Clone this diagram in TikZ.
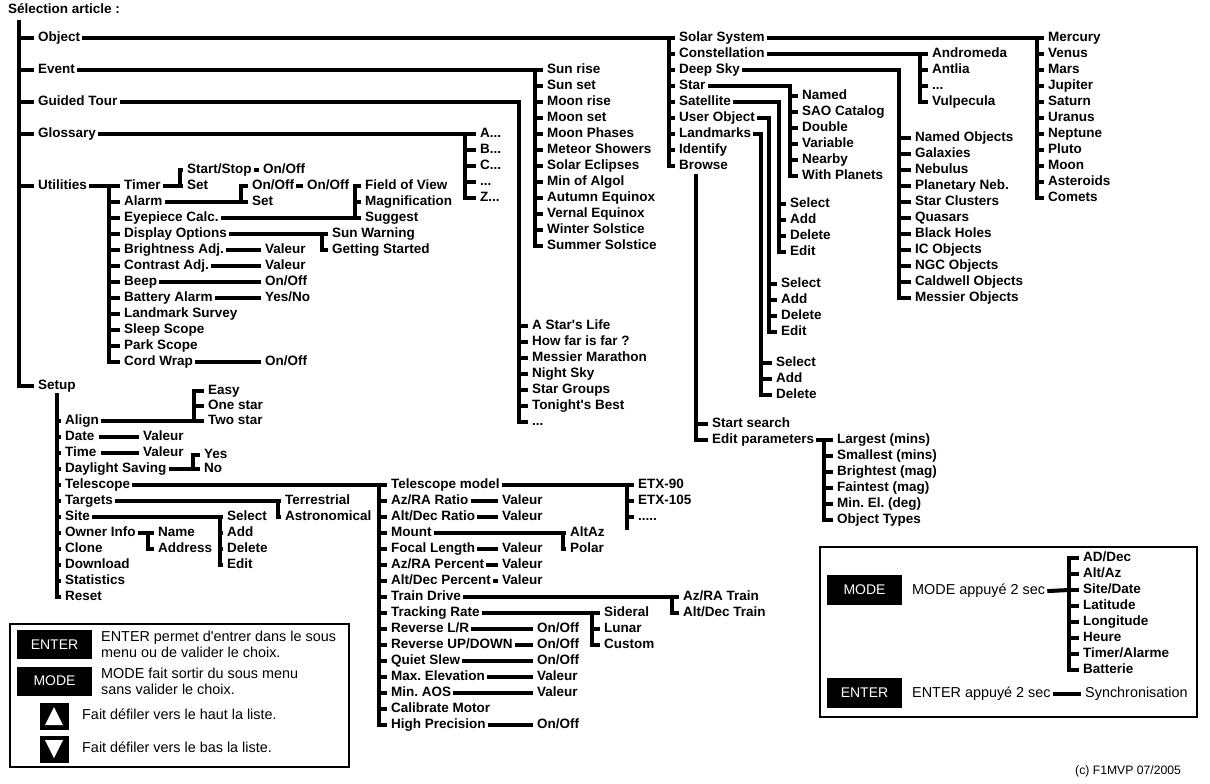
\documentclass[tikz,border=0pt]{standalone}
\usepackage{fontspec}
\setmainfont{Liberation Sans}
\frenchspacing
\newcommand{\dts}{...}
\newcommand{\ap}{\textquotesingle}
\begin{document}
\begin{tikzpicture}[x=1pt,y=-1pt,
    br/.style={line width=4pt,line cap=rect},
    lbl/.style={anchor=west,inner sep=0pt,text height=10pt,text depth=2.5pt,font=\fontsize{13.5}{14}\selectfont\bfseries},
    txt/.style={anchor=west,inner sep=0pt,text height=10pt,text depth=3pt,font=\fontsize{14.4}{15}\selectfont},
    key/.style={fill=black,text=white,inner sep=0pt,font=\fontsize{14}{15}\selectfont},
    frame/.style={line width=1.3pt}]
  \useasboundingbox (0,0) rectangle (1210,784);
  \node[lbl] (title) at (8,10) {Sélection article :};
  % main menu
  \node[lbl] (obj) at (38,38) {Object};
  \node[lbl] (evt) at (38,70) {Event};
  \node[lbl] (tour) at (38,102) {Guided Tour};
  \node[lbl] (glos) at (38,134) {Glossary};
  \node[lbl] (util) at (38,186) {Utilities};
  \node[lbl] (setup) at (38,386) {Setup};
  \draw[br] ([xshift=-19,yshift=16]obj.west) |- ([xshift=-6]setup.west);
  \foreach \n in {obj,evt,tour,glos,util}
    \draw[br] ([xshift=-19]\n.west) -- ([xshift=-6]\n.west);
  % Object
  \foreach \t [count=\i] in {Solar System,Constellation,Deep Sky,Star,Satellite,User Object,Landmarks,Identify,Browse}
    \node[lbl] (ob\i) at (679,22+16*\i) {\t};
  \draw[br] ([xshift=4]obj.east) -- ([xshift=-10]ob1.west) -- ([xshift=-10]ob9.west);
  \foreach \i in {1,...,9} \draw[br] ([xshift=-10]ob\i.west) -- ([xshift=-6]ob\i.west);
  % Solar System
  \foreach \t [count=\i] in {Mercury,Venus,Mars,Jupiter,Saturn,Uranus,Neptune,Pluto,Moon,Asteroids,Comets}
    \node[lbl] (ss\i) at (1048,22+16*\i) {\t};
  \draw[br] ([xshift=4]ob1.east) -- ([xshift=-11]ss1.west) -- ([xshift=-11]ss11.west);
  \foreach \i in {1,...,11} \draw[br] ([xshift=-11]ss\i.west) -- ([xshift=-6]ss\i.west);
  % Constellation
  \foreach \t [count=\i] in {Andromeda,Antlia,\dts,Vulpecula}
    \node[lbl] (cn\i) at (932,38+16*\i) {\t};
  \draw[br] ([xshift=4]ob2.east) -- ([xshift=-12]cn1.west) -- ([xshift=-12]cn4.west);
  \foreach \i in {1,...,4} \draw[br] ([xshift=-12]cn\i.west) -- ([xshift=-6]cn\i.west);
  % Deep Sky
  \foreach \t [count=\i] in {Named Objects,Galaxies,Nebulus,Planetary Neb.,Star Clusters,Quasars,Black Holes,IC Objects,NGC Objects,Caldwell Objects,Messier Objects}
    \node[lbl] (ds\i) at (915,122+16*\i) {\t};
  \draw[br] ([xshift=4]ob3.east) -| ([xshift=-16]ds11.west);
  \foreach \i in {1,...,11} \draw[br] ([xshift=-16]ds\i.west) -- ([xshift=-6]ds\i.west);
  % Star
  \foreach \t [count=\i] in {Named,SAO Catalog,Double,Variable,Nearby,With Planets}
    \node[lbl] (sr\i) at (802,80+16*\i) {\t};
  \draw[br] ([xshift=4]ob4.east) -| ([xshift=-12]sr6.west);
  \foreach \i in {1,...,6} \draw[br] ([xshift=-12]sr\i.west) -- ([xshift=-6]sr\i.west);
  % Satellite
  \foreach \t [count=\i] in {Select,Add,Delete,Edit}
    \node[lbl] (sa\i) at (790,188+16*\i) {\t};
  \draw[br] ([xshift=4]ob5.east) -| ([xshift=-11]sa4.west);
  \foreach \i in {1,...,4} \draw[br] ([xshift=-11]sa\i.west) -- ([xshift=-6]sa\i.west);
  % User Object
  \foreach \t [count=\i] in {Select,Add,Delete,Edit}
    \node[lbl] (uo\i) at (781,268+16*\i) {\t};
  \draw[br] ([xshift=4]ob6.east) -| ([xshift=-12]uo4.west);
  \foreach \i in {1,...,4} \draw[br] ([xshift=-12]uo\i.west) -- ([xshift=-6]uo\i.west);
  % Landmarks
  \foreach \t [count=\i] in {Select,Add,Delete}
    \node[lbl] (lm\i) at (776,347+16*\i) {\t};
  \draw[br] ([xshift=4]ob7.east) -| ([xshift=-15]lm3.west);
  \foreach \i in {1,...,3} \draw[br] ([xshift=-15]lm\i.west) -- ([xshift=-6]lm\i.west);
  % Browse
  \node[lbl] (bw1) at (712,424) {Start search};
  \node[lbl] (bw2) at (712,440) {Edit parameters};
  \draw[br] ([xshift=-16,yshift=248]bw1.west) -- ([xshift=-16]bw2.west);
  \foreach \i in {1,2} \draw[br] ([xshift=-16]bw\i.west) -- ([xshift=-6]bw\i.west);
  \foreach \t [count=\i] in {Largest (mins),Smallest (mins),Brightest (mag),Faintest (mag),Min. El. (deg),Object Types}
    \node[lbl] (pa\i) at (837,424+16*\i) {\t};
  \draw[br] ([xshift=4]bw2.east) -- ([xshift=-13]pa1.west) -- ([xshift=-13]pa6.west);
  \foreach \i in {1,...,6} \draw[br] ([xshift=-13]pa\i.west) -- ([xshift=-6]pa\i.west);
  % Event
  \foreach \t [count=\i] in {Sun rise,Sun set,Moon rise,Moon set,Moon Phases,Meteor Showers,Solar Eclipses,Min of Algol,Autumn Equinox,Vernal Equinox,Winter Solstice,Summer Solstice}
    \node[lbl] (ev\i) at (547,54+16*\i) {\t};
  \draw[br] ([xshift=4]evt.east) -- ([xshift=-12]ev1.west) -- ([xshift=-12]ev12.west);
  \foreach \i in {1,...,12} \draw[br] ([xshift=-12]ev\i.west) -- ([xshift=-6]ev\i.west);
  % Guided Tour
  \foreach \t [count=\i] in {A Star\ap s Life,How far is far ?,Messier Marathon,Night Sky,Star Groups,Tonight\ap s Best,\dts}
    \node[lbl] (gt\i) at (532,310+16*\i) {\t};
  \draw[br] ([xshift=4]tour.east) -| ([xshift=-13]gt7.west);
  \foreach \i in {1,...,7} \draw[br] ([xshift=-13]gt\i.west) -- ([xshift=-6]gt\i.west);
  % Glossary
  \foreach \t [count=\i] in {A\dts,B\dts,C\dts,\dts,Z\dts}
    \node[lbl] (gl\i) at (480,118+16*\i) {\t};
  \draw[br] ([xshift=4]glos.east) -- ([xshift=-15]gl1.west) -- ([xshift=-15]gl5.west);
  \foreach \i in {1,...,5} \draw[br] ([xshift=-15]gl\i.west) -- ([xshift=-6]gl\i.west);
  % Utilities
  \foreach \t [count=\i] in {Timer,Alarm,Eyepiece Calc.,Display Options,Brightness Adj.,Contrast Adj.,Beep,Battery Alarm,Landmark Survey,Sleep Scope,Park Scope,Cord Wrap}
    \node[lbl] (ut\i) at (124,170+16*\i) {\t};
  \draw[br] ([xshift=4]util.east) -- ([xshift=-15]ut1.west) -- ([xshift=-15]ut12.west);
  \foreach \i in {1,...,12} \draw[br] ([xshift=-15]ut\i.west) -- ([xshift=-6]ut\i.west);
  \node[lbl] (tm1) at (187,170) {Start/Stop};
  \node[lbl] (tm2) at (187,186) {Set};
  \node[lbl] (tm3) at (263,170) {On/Off};
  \draw[br] ([xshift=4]ut1.east) -| ([xshift=-7]tm1.west);
  \foreach \i in {1,2} \draw[br] ([xshift=-7]tm\i.west) -- ([xshift=-6]tm\i.west);
  \draw[br] ([xshift=4]tm1.east) -- ([xshift=-6]tm3.west);
  \node[lbl] (al1) at (252,186) {On/Off};
  \node[lbl] (al2) at (252,202) {Set};
  \node[lbl] (al3) at (307,186) {On/Off};
  \draw[br] ([xshift=4]ut2.east) -| ([xshift=-11]al1.west);
  \foreach \i in {1,2} \draw[br] ([xshift=-11]al\i.west) -- ([xshift=-6]al\i.west);
  \draw[br] ([xshift=4]al1.east) -- ([xshift=-6]al3.west);
  \foreach \t [count=\i] in {Field of View,Magnification,Suggest}
    \node[lbl] (ey\i) at (365,170+16*\i) {\t};
  \draw[br] ([xshift=4]ut3.east) -| ([xshift=-10]ey1.west);
  \foreach \i in {1,...,3} \draw[br] ([xshift=-10]ey\i.west) -- ([xshift=-6]ey\i.west);
  \node[lbl] (dp1) at (332,234) {Sun Warning};
  \node[lbl] (dp2) at (332,250) {Getting Started};
  \draw[br] ([xshift=4]ut4.east) -- ([xshift=-10]dp1.west) -- ([xshift=-10]dp2.west);
  \foreach \i in {1,2} \draw[br] ([xshift=-10]dp\i.west) -- ([xshift=-6]dp\i.west);
  \foreach \r/\v in {5/Valeur,6/Valeur,7/On\slash Off,8/Yes\slash No,12/On\slash Off} {
    \node[lbl] (uv\r) at (265,170+16*\r) {\v};
    \draw[br] ([xshift=4]ut\r.east) -- ([xshift=-6]uv\r.west);
  }
  % Setup
  \foreach \t [count=\i] in {Align,Date,Time,Daylight Saving,Telescope,Targets,Site,Owner Info,Clone,Download,Statistics,Reset}
    \node[lbl] (su\i) at (65,405+16*\i) {\t};
  \draw[br] ([xshift=-8,yshift=26]su1.west) -- ([xshift=-8]su12.west);
  \foreach \i in {1,...,12} \draw[br] ([xshift=-8]su\i.west) -- ([xshift=-6]su\i.west);
  \foreach \t [count=\i] in {Easy,One star,Two star}
    \node[lbl] (ag\i) at (208,376+15*\i) {\t};
  \draw[br] ([xshift=4]su1.east) -| ([xshift=-14]ag1.west);
  \foreach \i in {1,...,3} \draw[br] ([xshift=-14]ag\i.west) -- ([xshift=-6]ag\i.west);
  \foreach \r in {2,3} {
    \node[lbl] (sv\r) at (143,405+16*\r) {Valeur};
    \draw[br] ([xshift=6]su\r.east) -- ([xshift=-6]sv\r.west);
  }
  \node[lbl] (dl1) at (204,455) {Yes};
  \node[lbl] (dl2) at (204,469) {No};
  \draw[br] ([xshift=4]su4.east) -| ([xshift=-11]dl1.west);
  \foreach \i in {1,2} \draw[br] ([xshift=-11]dl\i.west) -- ([xshift=-6]dl\i.west);
  \node[lbl] (tg1) at (285,501) {Terrestrial};
  \node[lbl] (tg2) at (285,517) {Astronomical};
  \draw[br] ([xshift=4]su6.east) -- ([xshift=-7]tg1.west) -- ([xshift=-7]tg2.west);
  \foreach \i in {1,2} \draw[br] ([xshift=-7]tg\i.west) -- ([xshift=-6]tg\i.west);
  \foreach \t [count=\i] in {Select,Add,Delete,Edit}
    \node[lbl] (st\i) at (227,501+16*\i) {\t};
  \draw[br] ([xshift=4]su7.east) -- ([xshift=-7]st1.west) -- ([xshift=-7]st4.west);
  \foreach \i in {1,...,4} \draw[br] ([xshift=-7]st\i.west) -- ([xshift=-6]st\i.west);
  \node[lbl] (ow1) at (158,533) {Name};
  \node[lbl] (ow2) at (158,549) {Address};
  \draw[br] ([xshift=4]su8.east) -- ([xshift=-10]ow1.west) -- ([xshift=-10]ow2.west);
  \foreach \i in {1,2} \draw[br] ([xshift=-10]ow\i.west) -- ([xshift=-6]ow\i.west);
  % Telescope
  \foreach \t [count=\i] in {Telescope model,Az/RA Ratio,Alt/Dec Ratio,Mount,Focal Length,Az/RA Percent,Alt/Dec Percent,Train Drive,Tracking Rate,Reverse L/R,Reverse UP/DOWN,Quiet Slew,Max. Elevation,Min. AOS,Calibrate Motor,High Precision}
    \node[lbl] (tl\i) at (391,469+16*\i) {\t};
  \draw[br] ([xshift=4]su5.east) -- ([xshift=-12]tl1.west) -- ([xshift=-12]tl16.west);
  \foreach \i in {1,...,16} \draw[br] ([xshift=-12]tl\i.west) -- ([xshift=-6]tl\i.west);
  \foreach \t [count=\i] in {ETX-90,ETX-105,\dts..}
    \node[lbl] (etx\i) at (638,469+16*\i) {\t};
  \draw[br] ([xshift=4]tl1.east) -- ([xshift=-11]etx1.west) -- ([xshift=-11,yshift=-11]etx3.west);
  \foreach \i in {1,...,3} \draw[br] ([xshift=-11]etx\i.west) -- ([xshift=-6]etx\i.west);
  \node[lbl] (mt1) at (570,533) {AltAz};
  \node[lbl] (mt2) at (570,549) {Polar};
  \draw[br] ([xshift=4]tl4.east) -- ([xshift=-7]mt1.west) -- ([xshift=-7]mt2.west);
  \foreach \i in {1,2} \draw[br] ([xshift=-7]mt\i.west) -- ([xshift=-6]mt\i.west);
  \node[lbl] (tr1) at (683,597) {Az/RA Train};
  \node[lbl] (tr2) at (683,613) {Alt/Dec Train};
  \draw[br] ([xshift=4]tl8.east) -- ([xshift=-11]tr1.west) -- ([xshift=-11]tr2.west);
  \foreach \i in {1,2} \draw[br] ([xshift=-11]tr\i.west) -- ([xshift=-6]tr\i.west);
  \foreach \t [count=\i] in {Sideral,Lunar,Custom}
    \node[lbl] (tk\i) at (604,597+16*\i) {\t};
  \draw[br] ([xshift=4]tl9.east) -- ([xshift=-12]tk1.west) -- ([xshift=-12]tk3.west);
  \foreach \i in {1,...,3} \draw[br] ([xshift=-12]tk\i.west) -- ([xshift=-6]tk\i.west);
  \foreach \r in {2,3,5,6,7} {
    \node[lbl] (tv\r) at (502,469+16*\r) {Valeur};
    \draw[br] ([xshift=4]tl\r.east) -- ([xshift=-6]tv\r.west);
  }
  \foreach \r/\v in {10/On\slash Off,11/On\slash Off,12/On\slash Off,13/Valeur,14/Valeur,16/On\slash Off} {
    \node[lbl] (tw\r) at (537,469+16*\r) {\v};
    \draw[br] ([xshift=4]tl\r.east) -- ([xshift=-6]tw\r.west);
  }
  % legend, left
  \draw[frame] (10,624) rectangle (349,767);
  \node[key,minimum width=75pt,minimum height=29pt] (kent) at (54.5,644.5) {ENTER};
  \node[key,minimum width=75pt,minimum height=29pt] (kmod) at (54.5,681) {MODE};
  \node[txt] (le1) at (101,638) {ENTER permet d\ap entrer dans le sous};
  \node[txt] (le2) at (101,654) {menu ou de valider le choix.};
  \node[txt] (le3) at (101,675) {MODE fait sortir du sous menu};
  \node[txt] (le4) at (101,691) {sans valider le choix.};
  \node[key,minimum width=29pt,minimum height=27pt] (kup) at (54,716) {};
  \node[key,minimum width=29pt,minimum height=27pt] (kdn) at (54,749) {};
  \fill[white] ([xshift=-9,yshift=-9]kup.center) -- ([xshift=9,yshift=-9]kup.center) -- ([yshift=9]kup.center) -- cycle;
  \fill[white] ([xshift=-9,yshift=9]kdn.center) -- ([xshift=9,yshift=9]kdn.center) -- ([yshift=-9]kdn.center) -- cycle;
  \node[txt] (le5) at (82,716) {Fait défiler vers le haut la liste.};
  \node[txt] (le6) at (82,749) {Fait défiler vers le bas la liste.};
  % legend, right
  \draw[frame] (820,547) rectangle (1197,717);
  \node[key,minimum width=75pt,minimum height=30pt] (kmod2) at (864.5,590) {MODE};
  \node[key,minimum width=75pt,minimum height=30pt] (kent2) at (864.5,692.5) {ENTER};
  \node[txt] (mlong) at (912,591) {MODE appuyé 2 sec};
  \node[txt] (elong) at (912,694) {ENTER appuyé 2 sec};
  \foreach \t [count=\i] in {AD/Dec,Alt/Az,Site/Date,Latitude,Longitude,Heure,Timer/Alarme,Batterie}
    \node[lbl] (md\i) at (1083,542+16*\i) {\t};
  \draw[br] ([xshift=4]mlong.east) -- ([xshift=-14]md3.west);
  \draw[br] ([xshift=-14]md1.west) -- ([xshift=-14]md8.west);
  \foreach \i in {1,...,8} \draw[br] ([xshift=-14]md\i.west) -- ([xshift=-6]md\i.west);
  \node[txt] (sync) at (1085,694) {Synchronisation};
  \draw[br] ([xshift=4]elong.east) -- ([xshift=-6]sync.west);
  \node[txt,font=\fontsize{12.2}{13}\selectfont] (copy) at (1075,771) {(c) F1MVP 07/2005};
\end{tikzpicture}
\end{document}
